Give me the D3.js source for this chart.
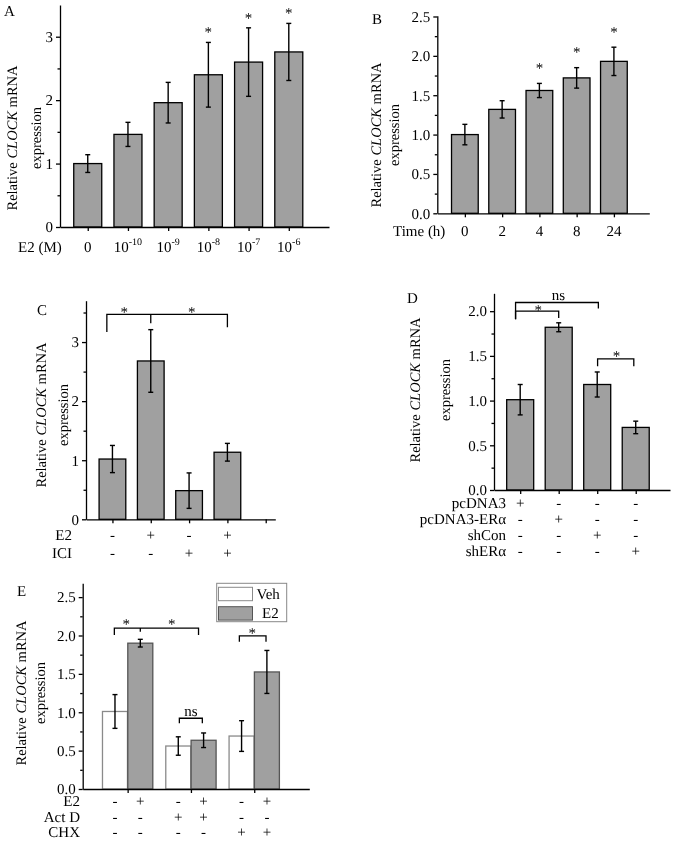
<!DOCTYPE html>
<html>
<head>
<meta charset="utf-8">
<script src="https://cdn.jsdelivr.net/npm/d3@7"></script>
<style>
  body { margin: 0; background: #fff; }
  svg { will-change: transform; }
  text { font-family: "Liberation Serif", "Times New Roman", serif; fill: #000; text-rendering: geometricPrecision; }
</style>
</head>
<body>
<svg id="fig" width="674" height="842"></svg>
<script>
// A: dose response
const aBase = ["0", "10", "10", "10", "10", "10"];
const aExp = [null, "-10", "-9", "-8", "-7", "-6"];
const aMeans = [1.0, 1.46, 1.96, 2.40, 2.60, 2.76];
const aErrs = [0.14, 0.19, 0.32, 0.51, 0.54, 0.45];
const aSig = [false, false, false, true, true, true];

// B: time course
const bTimes = ["0", "2", "4", "8", "24"];
const bMeans = [1.0, 1.32, 1.56, 1.72, 1.93];
const bErrs = [0.13, 0.11, 0.09, 0.13, 0.18];
const bSig = [false, false, true, true, true];

// C: E2 / ICI
const cMeans = [1.02, 2.68, 0.485, 1.135];
const cErrs = [0.23, 0.53, 0.30, 0.15];
const cE2 = ["-", "+", "-", "+"];
const cICI = ["-", "-", "+", "+"];

// D: overexpression / knockdown
const dMeans = [1.01, 1.82, 1.18, 0.70];
const dErrs = [0.17, 0.05, 0.14, 0.07];
const dRows = ["pcDNA3", "pcDNA3-ERα", "shCon", "shERα"];
const dSigns = [
  ["+", "-", "-", "-"],
  ["-", "+", "-", "-"],
  ["-", "-", "+", "-"],
  ["-", "-", "-", "+"]
];

// E: Veh vs E2 with Act D / CHX
const eVeh = [1.01, 0.56, 0.69];
const eVehErr = [0.22, 0.12, 0.20];
const eE2 = [1.90, 0.635, 1.525];
const eE2Err = [0.05, 0.095, 0.28];
const eRows = ["E2", "Act D", "CHX"];
const eSigns = [
  ["-", "+", "-", "+", "-", "+"],
  ["-", "-", "+", "+", "-", "-"],
  ["-", "-", "-", "-", "+", "+"]
];
const eSeries = ["Veh", "E2"];

const FONT = '"Liberation Serif", "Times New Roman", serif';
const GREY = "#a0a0a0";
const svg = d3.select("#fig");

function makePanel(cfg) {
  const x = d3.scaleLinear().domain(cfg.xd).range(cfg.xr);
  const y = d3.scaleLinear().domain(cfg.yd).range(cfg.yr);
  const g = svg.append("g");
  const marks = g.append("g");
  const axes = g.append("g");

  axes.append("g").attr("transform", `translate(${cfg.xr[0]},0)`)
    .call(d3.axisLeft(y).tickValues(cfg.minor).tickSize(2.5).tickSizeOuter(0).tickFormat(""))
    .call(s => s.select(".domain").remove());
  axes.append("g").attr("transform", `translate(${cfg.xr[0]},0)`)
    .call(d3.axisLeft(y).tickValues(cfg.major).tickSize(4).tickPadding(3).tickSizeOuter(0).tickFormat(cfg.fmt));
  axes.append("g").attr("transform", `translate(0,${cfg.yr[0]})`)
    .call(d3.axisBottom(x).tickValues(cfg.xticks).tickSize(4).tickSizeOuter(0).tickFormat(""));

  axes.selectAll(".domain, .tick line").attr("stroke", "#000").attr("stroke-width", 1.3);
  axes.selectAll("g").attr("font-family", FONT).attr("font-size", 15);
  return { g, marks, x, y };
}

function drawBars(P, xs, means, errs, w, fill, stroke) {
  P.marks.selectAll(null).data(means).join("rect")
    .attr("x", (d, i) => P.x(xs[i]) - w / 2)
    .attr("width", w)
    .attr("y", d => P.y(d))
    .attr("height", d => P.y(0) - P.y(d))
    .attr("fill", fill)
    .attr("stroke", stroke)
    .attr("stroke-width", 1.3);

  const eb = P.marks.selectAll(null).data(means).join("g")
    .attr("stroke", "#000").attr("stroke-width", 1.4);
  eb.append("line")
    .attr("x1", (d, i) => P.x(xs[i])).attr("x2", (d, i) => P.x(xs[i]))
    .attr("y1", (d, i) => P.y(d - errs[i])).attr("y2", (d, i) => P.y(d + errs[i]));
  [-1, 1].forEach(s => {
    eb.append("line")
      .attr("x1", (d, i) => P.x(xs[i]) - 2.5).attr("x2", (d, i) => P.x(xs[i]) + 2.5)
      .attr("y1", (d, i) => P.y(d + s * errs[i])).attr("y2", (d, i) => P.y(d + s * errs[i]));
  });
}

function yTitle(x1, x2, cy) {
  const t1 = svg.append("text")
    .attr("transform", `translate(${x1},${cy}) rotate(-90)`)
    .attr("text-anchor", "middle").attr("dominant-baseline", "central")
    .attr("font-size", 14.5);
  t1.append("tspan").text("Relative ");
  t1.append("tspan").attr("font-style", "italic").text("CLOCK");
  t1.append("tspan").text(" mRNA");
  svg.append("text")
    .attr("transform", `translate(${x2},${cy}) rotate(-90)`)
    .attr("text-anchor", "middle").attr("dominant-baseline", "central")
    .attr("font-size", 14.5).text("expression");
}

function label(x, y, txt, size, anchor) {
  return svg.append("text").attr("x", x).attr("y", y)
    .attr("font-size", size || 15).attr("text-anchor", anchor || "start").text(txt);
}

function bracket(P, x1, x2, yTop, y1, y2, mid) {
  let d = `M${P.x(x1)},${P.y(y1)}V${P.y(yTop)}H${P.x(x2)}V${P.y(y2)}`;
  if (mid) d += `M${P.x(mid[0])},${P.y(yTop)}V${P.y(mid[1])}`;
  P.marks.append("path").attr("d", d).attr("fill", "none")
    .attr("stroke", "#000").attr("stroke-width", 1.3);
}

function star(P, xv, yc) {
  P.marks.append("text").attr("x", P.x(xv)).attr("y", P.y(yc) + 7)
    .attr("text-anchor", "middle").attr("font-size", 15).text("*");
}

// ---------- A ----------
const aIdx = aMeans.map((d, i) => i + 1);
const A = makePanel({
  xd: [0.31, 7], xr: [60, 329], yd: [0, 3.5], yr: [227, 5],
  major: [0, 1, 2, 3], minor: [0.5, 1.5, 2.5], fmt: d3.format("d"), xticks: aIdx
});
drawBars(A, aIdx, aMeans, aErrs, 28, GREY, "#000");
aSig.forEach((s, i) => { if (s) star(A, i + 1, aMeans[i] + aErrs[i] + 0.19); });
aBase.forEach((b, i) => {
  const t = svg.append("text").attr("x", A.x(i + 1)).attr("y", 252)
    .attr("text-anchor", "middle").attr("font-size", 15);
  t.append("tspan").text(b);
  if (aExp[i]) t.append("tspan").attr("dy", -7).attr("font-size", 10).text(aExp[i]);
});
label(18, 252, "E2 (M)");
yTitle(13, 37, 138);
label(4, 16, "A", 15);

// ---------- B ----------
const bIdx = bMeans.map((d, i) => i + 1);
const B = makePanel({
  xd: [0.26, 5.95], xr: [437.3, 649.3], yd: [0, 2.51], yr: [213.3, 15.7],
  major: [0, 0.5, 1, 1.5, 2, 2.5], minor: [0.25, 0.75, 1.25, 1.75, 2.25],
  fmt: d3.format(".1f"), xticks: bIdx
});
drawBars(B, bIdx, bMeans, bErrs, 26.7, GREY, "#000");
bSig.forEach((s, i) => { if (s) star(B, i + 1, bMeans[i] + bErrs[i] + 0.22); });
bTimes.forEach((t, i) => label(B.x(i + 1), 236, t, 15, "middle"));
label(393, 236, "Time (h)");
yTitle(377, 395, 135);
label(372, 24, "B", 15);

// ---------- C ----------
const cIdx = cMeans.map((d, i) => i + 1);
const C = makePanel({
  xd: [0.31, 5.25], xr: [86, 275.3], yd: [0, 3.7], yr: [519.3, 300.7],
  major: [0, 1, 2, 3], minor: [0.5, 1.5, 2.5, 3.5], fmt: d3.format("d"),
  xticks: [1, 2, 3, 4, 5]
});
drawBars(C, cIdx, cMeans, cErrs, 26.7, GREY, "#000");
bracket(C, 0.854, 4, 3.47, 3.17, 3.25, [2, 3.32]);
star(C, 1.31, 3.55);
star(C, 3.07, 3.55);
[[cE2, "E2", 540], [cICI, "ICI", 558]].forEach(([vals, name, by]) => {
  label(72, by, name, 15, "end");
  vals.forEach((v, i) => label(C.x(i + 1), by, v, 15, "middle"));
});
yTitle(42, 64, 415);
label(37, 315, "C", 15);

// ---------- D ----------
const dIdx = dMeans.map((d, i) => i + 1);
const D = makePanel({
  xd: [0.32, 4.89], xr: [494, 670], yd: [0, 2.2], yr: [490, 293.3],
  major: [0, 0.5, 1, 1.5, 2], minor: [0.25, 0.75, 1.25, 1.75],
  fmt: d3.format(".1f"), xticks: dIdx
});
drawBars(D, dIdx, dMeans, dErrs, 27, GREY, "#000");
bracket(D, 0.88, 3.03, 2.097, 1.91, 2.03);
bracket(D, 0.88, 2, 2.0, 1.91, 1.925);
bracket(D, 3.01, 3.95, 1.467, 1.385, 1.385);
D.marks.append("text").attr("x", D.x(1.99)).attr("y", 300)
  .attr("text-anchor", "middle").attr("font-size", 15).text("ns");
star(D, 1.47, 2.04);
star(D, 3.5, 1.52);
const dBase = [508, 524, 540, 555.5];
dRows.forEach((name, r) => {
  label(506, dBase[r], name, 15, "end");
  dSigns[r].forEach((v, i) => label(D.x(i + 1), dBase[r], v, 15, "middle"));
});
yTitle(416, 446, 390);
label(407, 303, "D", 15);

// ---------- E ----------
const E = makePanel({
  xd: [0.29, 3.87], xr: [82.7, 309.3], yd: [0, 2.68], yr: [789, 583.3],
  major: [0, 0.5, 1, 1.5, 2, 2.5], minor: [0.25, 0.75, 1.25, 1.75, 2.25],
  fmt: d3.format(".1f"), xticks: [1, 2, 3]
});
const eVehX = eVeh.map((d, i) => i + 1 - 0.2);
const eE2X = eE2.map((d, i) => i + 1 + 0.2);
drawBars(E, eVehX, eVeh, eVehErr, 25, "#fff", "#8a8a8a");
drawBars(E, eE2X, eE2, eE2Err, 25, GREY, "#555");
bracket(E, 0.79, 2.12, 2.095, 2.008, 2.008, [1.2, 2.05]);
star(E, 0.98, 2.18);
star(E, 1.695, 2.18);
bracket(E, 1.817, 2.18, 0.922, 0.857, 0.857);
E.marks.append("text").attr("x", E.x(2.0)).attr("y", 716)
  .attr("text-anchor", "middle").attr("font-size", 15).text("ns");
bracket(E, 2.765, 3.186, 1.995, 1.92, 1.92);
star(E, 2.97, 2.06);
const eBase = [806, 822, 837];
const eAllX = [0.8, 1.2, 1.8, 2.2, 2.8, 3.2];
eRows.forEach((name, r) => {
  label(80, eBase[r], name, 15, "end");
  eSigns[r].forEach((v, i) => label(E.x(eAllX[i]), eBase[r], v, 15, "middle"));
});
// legend
const leg = svg.append("g");
leg.append("rect").attr("x", 216.7).attr("y", 583.3).attr("width", 70).attr("height", 38.4)
  .attr("fill", "#fff").attr("stroke", "#888").attr("stroke-width", 1);
eSeries.forEach((s, i) => {
  leg.append("rect").attr("x", 218.5).attr("y", 587.3 + i * 19.4).attr("width", 34).attr("height", 13.4)
    .attr("fill", i ? GREY : "#fff").attr("stroke", i ? "#555" : "#8a8a8a").attr("stroke-width", 1);
  leg.append("text").attr("x", i ? 262 : 256.5).attr("y", 598.5 + i * 19.4)
    .attr("font-size", 15).text(s);
});
yTitle(22, 41, 693);
label(17, 596, "E", 15);
</script>
</body>
</html>
